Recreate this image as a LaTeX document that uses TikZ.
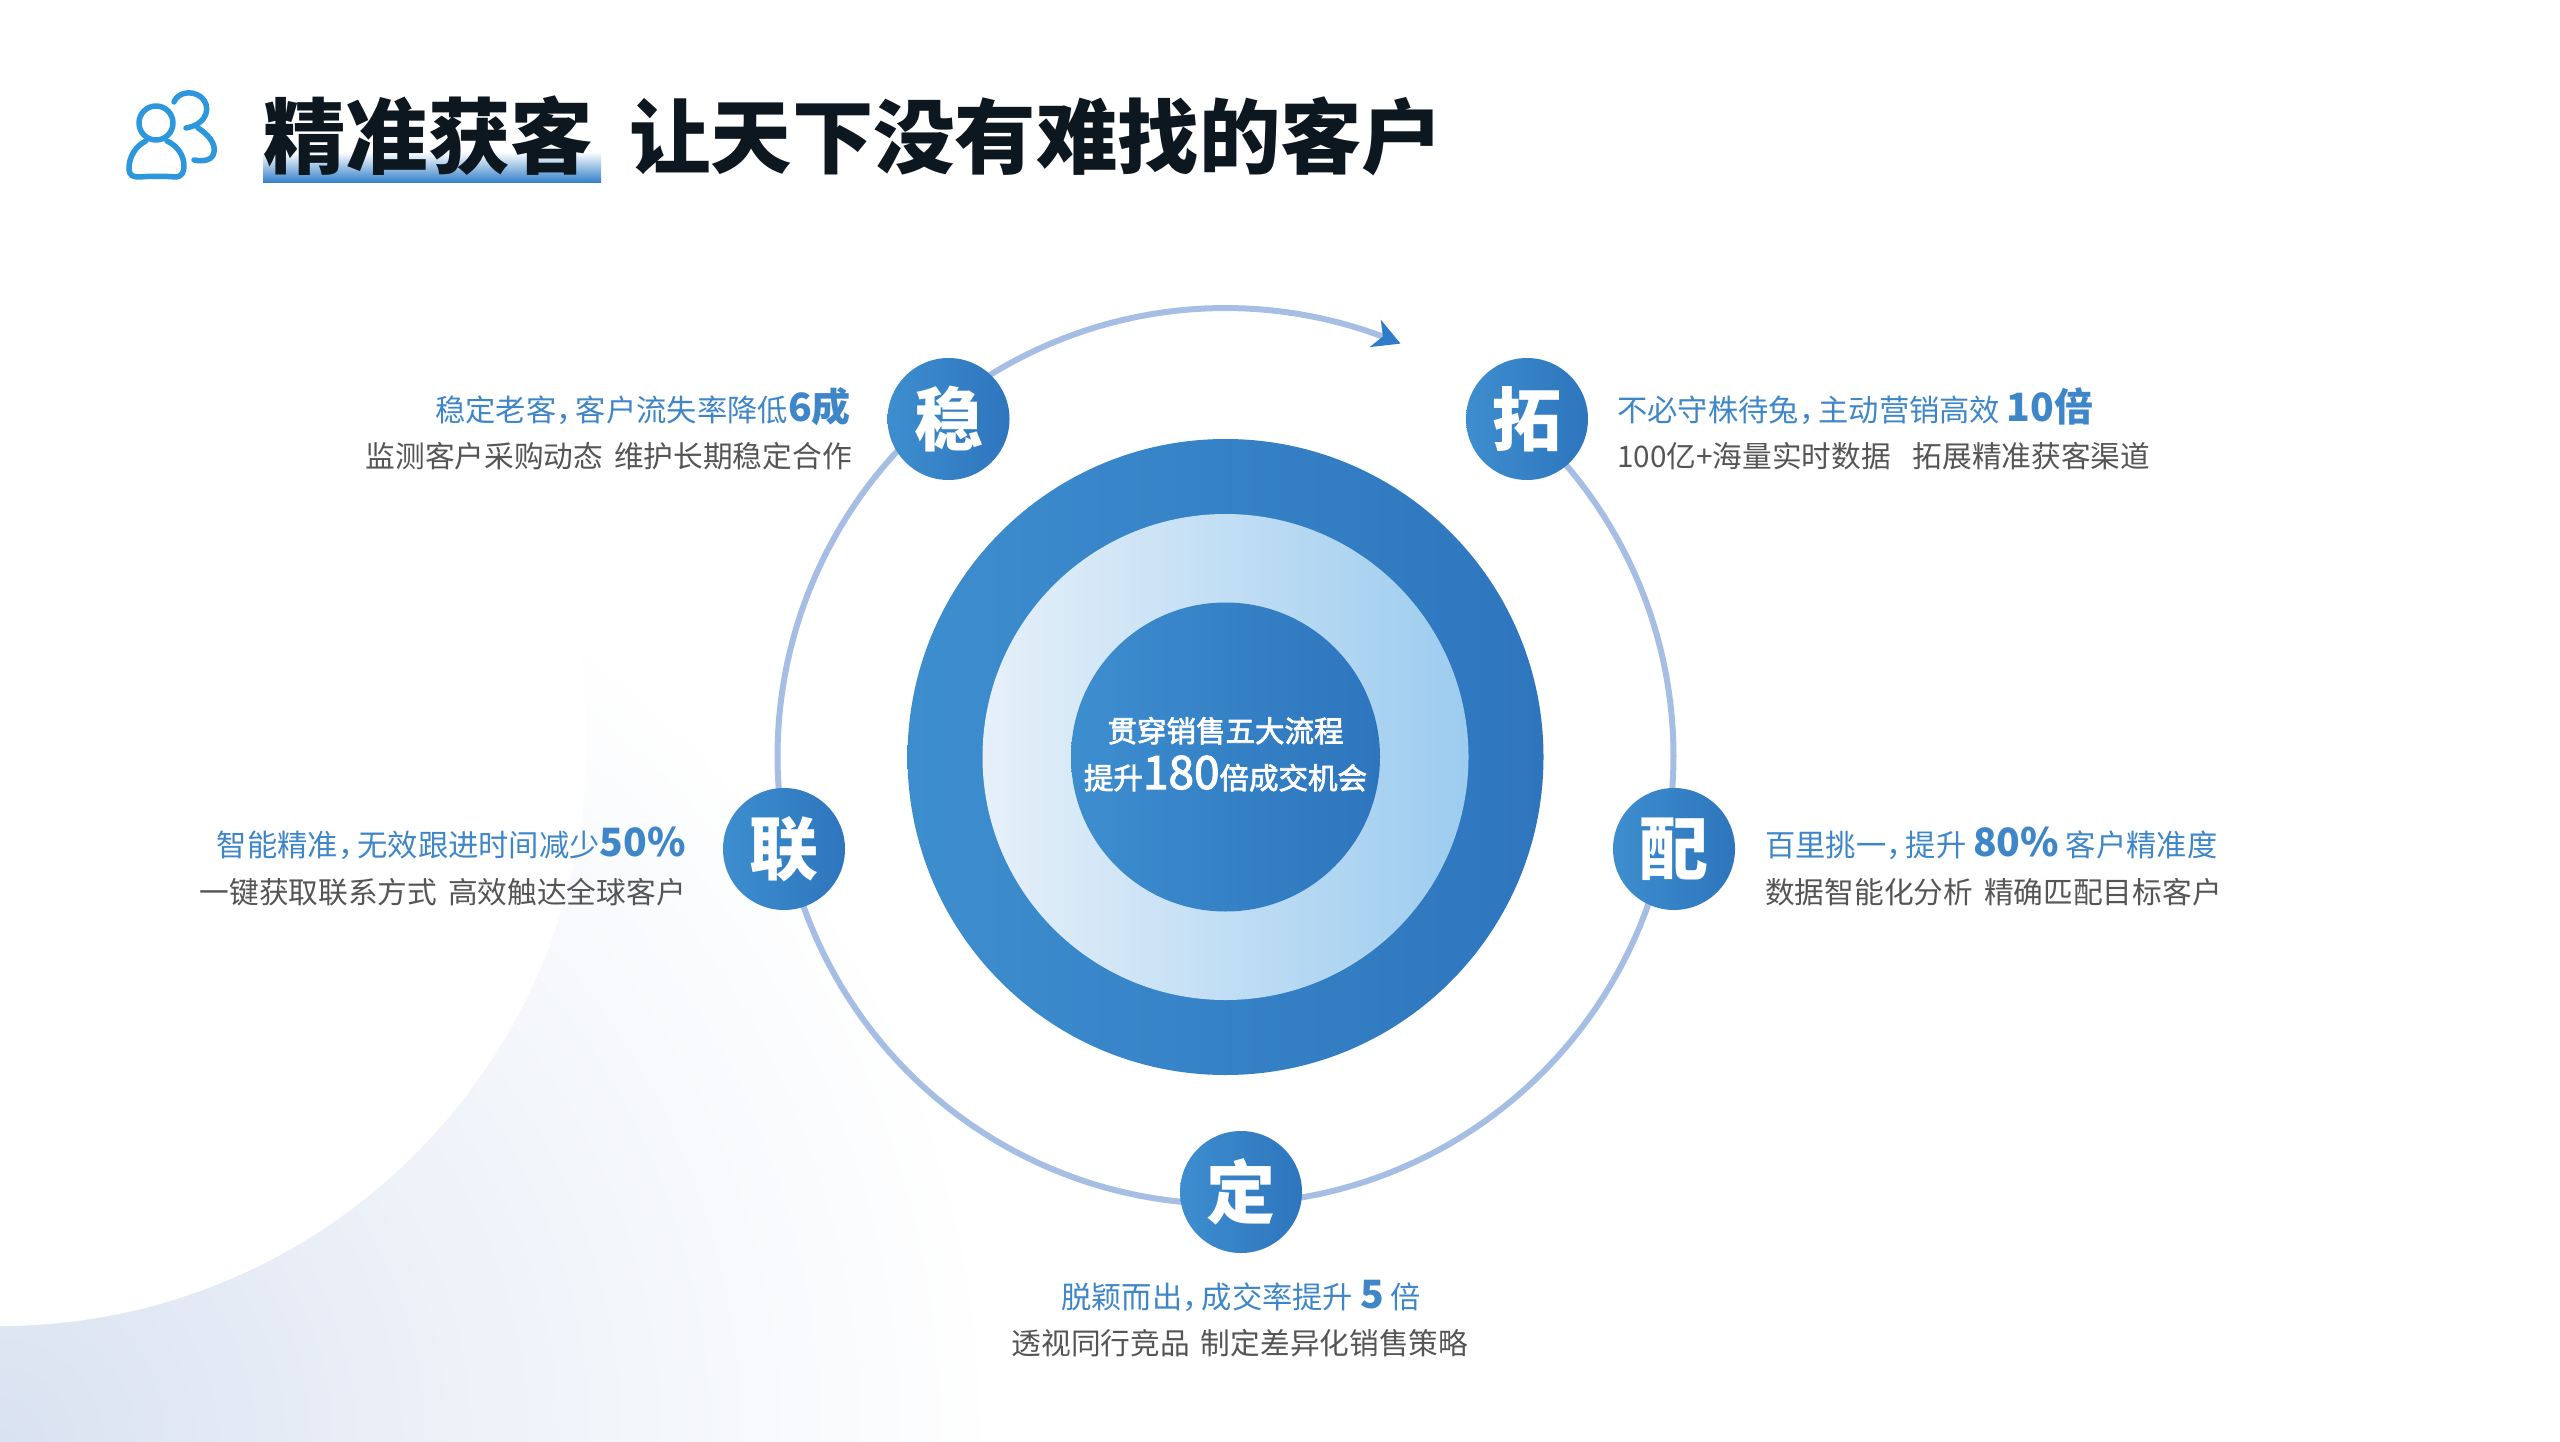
\documentclass[tikz,border=0pt]{standalone}
\usepackage{fontspec}
\setmainfont{Noto Sans CJK SC}
\newfontfamily\midfont[FakeBold=2.5]{Noto Sans CJK SC}
\usetikzlibrary{arrows.meta}
\definecolor{inkblack}{HTML}{0D1720}
\definecolor{textblue}{HTML}{3F86C9}
\definecolor{textgray}{HTML}{555555}
\definecolor{ringblue}{HTML}{A6BEE4}
\definecolor{tipblue}{HTML}{2F7DC8}
\definecolor{iconblue}{HTML}{2C97DC}
\definecolor{deepleft}{HTML}{3D8ECF}
\definecolor{deepright}{HTML}{2E75BD}
\definecolor{paleleft}{HTML}{E6F0F9}
\definecolor{paleright}{HTML}{9CCCEF}
\definecolor{cornerblue}{HTML}{D9E2F1}
\pgfdeclareradialshading{washshade}{\pgfpoint{0bp}{0bp}}{color(0bp)=(cornerblue); color(12bp)=(cornerblue!45!white); color(25bp)=(white); color(50bp)=(white)}
\tikzset{
  deepfill/.style={left color=deepleft, right color=deepright},
  badge/.style={circle, deepfill, minimum size=122pt, inner sep=0pt, text=white, font=\fontsize{69}{74}\selectfont\bfseries},
  leadline/.style={text=textblue, inner sep=0pt, font=\fontsize{30.3}{36}\selectfont},
  subline/.style={text=textgray, inner sep=0pt, font=\fontsize{29.7}{36}\selectfont},
  hubline/.style={text=white, inner sep=0pt, font=\fontsize{29.5}{36}\selectfont\midfont},
  headline/.style={anchor=base west, inner sep=0pt, text=inkblack, font=\fontsize{81.4}{90}\selectfont\bfseries},
}
\newcommand{\hilite}[1]{{\fontsize{39}{40}\selectfont\bfseries #1}}
\newcommand{\cma}{，\hspace{-0.36em}}
\newcommand{\subgap}{\hspace{11pt}}
\begin{document}
\begin{tikzpicture}[x=1pt,y=-1pt]
\pgfmathsetmacro{\cx}{1225.5};
\pgfmathsetmacro{\cy}{757};
\useasboundingbox (0,0) rectangle (2560,1442);
% corner wash
\shade[shading=washshade] (-1000,442) rectangle (1000,2442);
\fill[white] (0,739) circle [radius=587pt];
% title
\fill[top color=white, bottom color=tipblue] (263,152) rectangle (601,183);
\node[headline, font=\fontsize{82.5}{90}\selectfont\bfseries] (title) at (263,168) {精准获客};
\node[headline] (slogan) at (629,168) {让天下没有难找的客户};
% icon
\begin{scope}[draw=iconblue, line width=5.5pt, line cap=round, line join=round]
\draw (156,123) circle [radius=17pt];
\draw (146,141) .. controls (135,146) and (129,158) .. (129,168) .. controls (129,176) and (133,177) .. (140,177) .. controls (150,176) and (165,176) .. (175,177) .. controls (182,177) and (184,172) .. (184,166) .. controls (184,156) and (178,146) .. (167,141);
\draw (174,102) .. controls (178,92) and (192,90) .. (201,97) .. controls (211,105) and (209,124) .. (186,128);
\draw (198,128) .. controls (208,134) and (216,144) .. (214,152) .. controls (213,160) and (204,162) .. (194,160);
\end{scope}
% ring
\draw[ringblue, line width=6pt, domain=-48:293, samples=200, -{Stealth[length=27pt,width=29pt,inset=8pt,color=tipblue]}] plot ({\cx+448*cos(\x)},{\cy-1+448*sin(\x)});
% disks
\node[circle, deepfill, minimum size=636pt, inner sep=0pt] (outer) at (\cx,\cy) {};
\node[circle, left color=paleleft, right color=paleright, minimum size=486pt, inner sep=0pt] (middle) at (\cx,\cy) {};
\node[circle, deepfill, minimum size=309pt, inner sep=0pt] (inner) at (\cx,\cy) {};
\node[hubline, anchor=base] (hubtop) at (\cx,742) {贯穿销售五大流程};
\node[hubline, anchor=base] (hubbottom) at (\cx,789) {提升{\fontsize{46}{46}\selectfont 180}倍成交机会};
% badges
\node[badge] (wen) at (948.5,419) {稳};
\node[badge] (tuo) at (1527,419) {拓};
\node[badge] (pei) at (1674,849) {配};
\node[badge] (lian) at (784,849) {联};
\node[badge] (ding) at (1241,1192) {定};
% captions
\node[leadline, anchor=base east] (wenlead) at (851,421) {稳定老客\cma 客户流失率降低\hilite{6成}};
\node[subline, anchor=base east] (wensub) at (852,467) {监测客户采购动态\subgap 维护长期稳定合作};
\node[leadline, anchor=base west] (tuolead) at (1617,421) {不必守株待兔\cma 主动营销高效 \hilite{10倍}};
\node[subline, anchor=base west] (tuosub) at (1617,467) {100亿+海量实时数据\subgap\hspace{4pt} 拓展精准获客渠道};
\node[leadline, anchor=base east] (lianlead) at (686,856) {智能精准\cma 无效跟进时间减少\hilite{50\%}};
\node[subline, anchor=base east] (liansub) at (686,903) {一键获取联系方式\subgap 高效触达全球客户};
\node[leadline, anchor=base west] (peilead) at (1765,856) {百里挑一\cma 提升 \hilite{80\%} 客户精准度};
\node[subline, anchor=base west] (peisub) at (1765,903) {数据智能化分析\subgap 精确匹配目标客户};
\node[leadline, anchor=base] (dinglead) at (1241,1308) {脱颖而出\cma 成交率提升 \hilite{5} 倍};
\node[subline, anchor=base] (dingsub) at (1240,1354) {透视同行竞品\subgap 制定差异化销售策略};
\end{tikzpicture}
\end{document}
